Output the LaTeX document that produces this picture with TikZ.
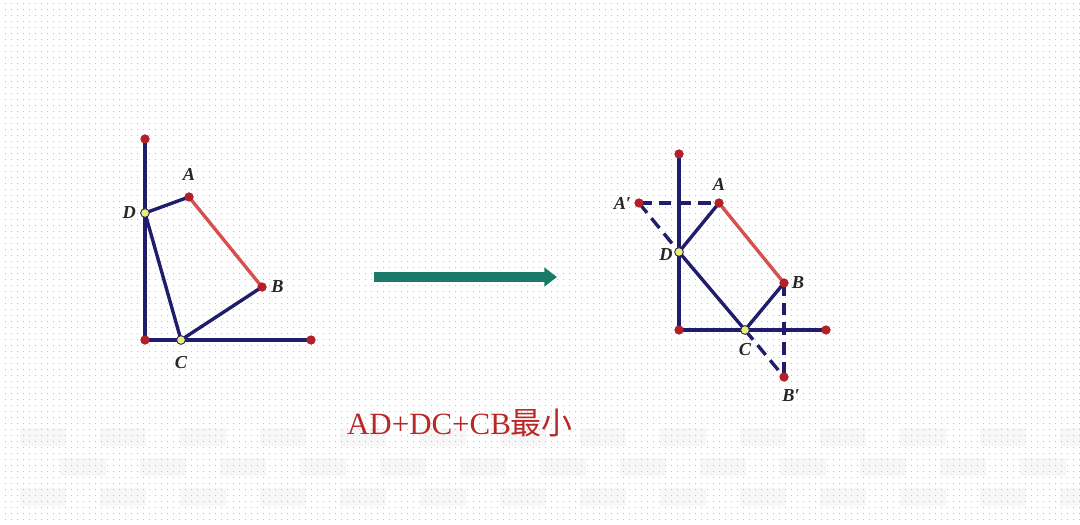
\documentclass[tikz,border=0pt]{standalone}
\usepackage{fontspec}
\setmainfont{Liberation Serif}
\newfontfamily\cjkfont{Noto Sans CJK SC}
\usepackage{xcolor}
\usetikzlibrary{positioning,arrows.meta,patterns.meta}

\definecolor{navyline}{RGB}{32,30,108}
\definecolor{redline}{RGB}{214,80,76}
\definecolor{dotred}{RGB}{178,32,42}
\definecolor{dotyellow}{RGB}{236,240,110}
\definecolor{arrowteal}{RGB}{26,122,104}
\definecolor{textred}{RGB}{184,40,40}

\tikzdeclarepattern{
  name=bgdots, type=uncolored,
  bounding box={(0pt,0pt) and (4.3pt,4.3pt)},
  tile size={(4.3pt,4.3pt)},
  code={\fill (0pt,0pt) rectangle (0.8pt,0.8pt);}
}

\begin{document}
\begin{tikzpicture}[
    x=0.025cm, y=-0.025cm,
    seg/.style={line width=2.4pt, draw=navyline},
    redseg/.style={line width=2.4pt, draw=redline},
    dashseg/.style={line width=2.4pt, draw=navyline, dash pattern=on 9pt off 5pt},
    rdot/.style={circle, fill=dotred, inner sep=0pt, minimum size=6.4pt},
    ydot/.style={circle, fill=dotyellow, draw=navyline, line width=0.6pt, inner sep=0pt, minimum size=6.2pt},
    lbl/.style={font=\fontsize{13}{13}\selectfont\bfseries\itshape, text=black!85, inner sep=1pt},
    caption/.style={font=\fontsize{22}{22}\selectfont, text=textred, inner sep=0pt},
    arrow/.style={line width=7pt, draw=arrowteal, -{Triangle[length=9pt, width=13pt]}}
]
\useasboundingbox (0,0) rectangle (1080,525);

% Background
\fill[white] (0,0) rectangle (1080,525);
\foreach \r in {0,1,2}
  \foreach \c in {0,...,13}
    \fill[black!3] ({20+80*\c+40*mod(\r,2)},{428+30*\r}) rectangle ++(46,18);
\fill[pattern=bgdots, pattern color=black!25] (0,0) rectangle (1080,525);

% Left figure: points
\node[rdot] (O1) at (145,340) {};
\node[rdot] (Y1) at (145,139) {};
\node[rdot] (X1) at (311,340) {};
\node[rdot] (A1) at (189,197) {};
\node[rdot] (B1) at (262,287) {};
\coordinate (D1c) at (145,213);
\coordinate (C1c) at (181,340);

% Left figure: lines
\draw[seg] (O1.center) -- (Y1.center);
\draw[seg] (O1.center) -- (X1.center);
\draw[seg] (D1c) -- (A1.center);
\draw[seg] (D1c) -- (C1c);
\draw[seg] (C1c) -- (B1.center);
\draw[redseg] (A1.center) -- (B1.center);
\foreach \p in {O1,Y1,X1,A1,B1}
  \node[rdot] at (\p) {};
\node[ydot] (D1) at (D1c) {};
\node[ydot] (C1) at (C1c) {};

% Left figure: labels
\node[lbl, above=7pt of A1] (lA1) {A};
\node[lbl, left=2pt of D1] (lD1) {D};
\node[lbl, right=2pt of B1] (lB1) {B};
\node[lbl, below=7pt of C1] (lC1) {C};

% Arrow
\coordinate (arrS) at (374,277);
\coordinate (arrE) at (557,277);
\draw[arrow] (arrS) -- (arrE);

% Right figure: points
\node[rdot] (O2) at (679,330) {};
\node[rdot] (Y2) at (679,154) {};
\node[rdot] (X2) at (826,330) {};
\node[rdot] (A2) at (719,203) {};
\node[rdot] (Ap2) at (639,203) {};
\node[rdot] (B2) at (784,283) {};
\node[rdot] (Bp2) at (784,377) {};
\coordinate (D2c) at (679,252);
\coordinate (C2c) at (745,330);

% Right figure: lines
\draw[seg] (O2.center) -- (Y2.center);
\draw[seg] (O2.center) -- (X2.center);
\draw[dashseg] (Ap2.center) -- (A2.center);
\draw[dashseg] (Ap2.center) -- (D2c);
\draw[dashseg] (B2.center) -- (Bp2.center);
\draw[dashseg] (C2c) -- (Bp2.center);
\draw[seg] (D2c) -- (A2.center);
\draw[seg] (D2c) -- (C2c);
\draw[seg] (C2c) -- (B2.center);
\draw[redseg] (A2.center) -- (B2.center);
\foreach \p in {O2,Y2,X2,A2,Ap2,B2,Bp2}
  \node[rdot] at (\p) {};
\node[ydot] (D2) at (D2c) {};
\node[ydot] (C2) at (C2c) {};

% Right figure: labels
\node[lbl, above=4pt of A2] (lA2) {A};
\node[lbl, left=1pt of Ap2] (lAp2) {A′};
\node[lbl, left=0pt of D2, yshift=-2pt] (lD2) {D};
\node[lbl, right=1pt of B2] (lB2) {B};
\node[lbl, below=5pt of C2] (lC2) {C};
\node[lbl, below=4pt of Bp2, xshift=5pt] (lBp2) {B′};

% Caption
\node[caption] (cap) at (460,423) {AD+DC+CB{\cjkfont 最小}};

\end{tikzpicture}
\end{document}
